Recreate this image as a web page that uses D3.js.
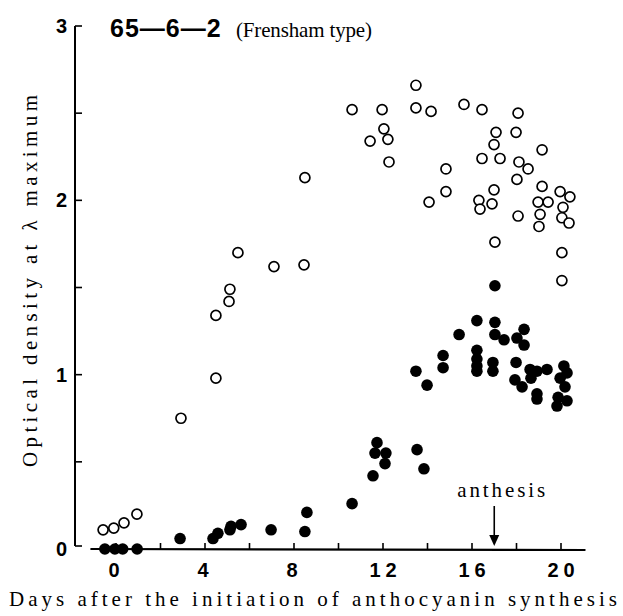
<!DOCTYPE html>
<html><head><meta charset="utf-8">
<script src="https://cdn.jsdelivr.net/npm/d3@7/dist/d3.min.js"></script>
<style>
html,body{margin:0;padding:0;background:#fff;}
svg{display:block;}
</style></head>
<body>
<script>
// ---- data (days, optical density) ----
const openDays = [-0.58,-0.1,0.36,0.94,2.92,4.49,4.49,5.08,5.12,5.48,7.10,8.45,8.49,
  10.61,11.42,11.96,12.04,12.22,12.27,13.48,13.48,14.16,14.07,14.83,14.83,
  15.64,16.45,16.45,16.31,16.36,16.90,16.99,17.08,16.99,17.03,17.26,
  18.07,17.98,18.11,18.02,18.07,18.52,19.15,19.15,18.97,19.42,19.06,19.01,
  19.96,20.40,20.09,20.04,20.36,20.04,20.04];
const openVals = [0.11,0.12,0.15,0.20,0.75,0.98,1.34,1.42,1.49,1.70,1.62,1.63,2.13,
  2.52,2.34,2.52,2.41,2.35,2.22,2.66,2.53,2.51,1.99,2.18,2.05,
  2.55,2.52,2.24,2.00,1.95,1.98,2.32,2.39,2.06,1.76,2.24,
  2.50,2.39,2.22,2.12,1.91,2.18,2.29,2.08,1.99,1.99,1.92,1.85,
  2.05,2.02,1.96,1.90,1.87,1.70,1.54];
const filledDays = [-0.5,-0.05,0.3,0.95,2.88,4.36,4.58,5.12,5.17,5.62,6.97,8.49,8.58,10.61,
  11.55,11.73,11.64,12.13,12.09,13.53,13.84,13.48,13.98,14.70,14.70,15.42,
  16.22,16.22,16.22,16.22,16.22,16.94,16.94,17.03,17.03,17.03,17.44,
  17.98,17.93,18.02,18.34,18.34,18.25,18.61,18.65,18.92,18.92,18.92,
  19.37,19.96,19.87,19.82,20.13,20.27,20.18,20.27];
const filledVals = [0,0,0,0,0.06,0.06,0.09,0.11,0.13,0.14,0.11,0.10,0.21,0.26,
  0.42,0.61,0.55,0.55,0.49,0.57,0.46,1.02,0.94,1.11,1.04,1.23,
  1.31,1.14,1.09,1.05,1.02,1.07,1.02,1.51,1.30,1.23,1.20,
  1.07,0.97,1.21,1.26,1.17,0.93,1.03,0.98,1.02,0.89,0.86,
  1.03,0.98,0.87,0.82,1.05,1.01,0.93,0.85];
const xTickVals = [0,4,8,12,16,20];
const xMinorTicks = [0,2,4,6,8,10,12,14,16,18,20];
const yTickVals = [0,1,2,3];
const yMinorTicks = [0,0.5,1,1.5,2,2.5,3];
const titleMain = "65\u20146\u20142";
const titleSub = "(Frensham type)";
const yLabel = "Optical density at \u03bb maximum";
const xLabel = "Days after the initiation of anthocyanin synthesis";
const anthesisDay = 17;

const W = 623, H = 616;
const svg = d3.select("body").append("svg").attr("width", W).attr("height", H);
svg.append("rect").attr("width", W).attr("height", H).attr("fill", "#fff");

const x = d3.scaleLinear().domain([0, 20]).range([116, 561]);
const y = d3.scaleLinear().domain([0, 3]).range([549, 26]);
const ink = "#000";
const sans = "'Liberation Sans', Arial, sans-serif";
const serif = "'Liberation Serif', 'Times New Roman', serif";

// y axis line
svg.append("line").attr("x1", 75).attr("x2", 75).attr("y1", y(3)).attr("y2", y(0) - 3)
  .attr("stroke", ink).attr("stroke-width", 2);
svg.selectAll(".ytick").data(yMinorTicks).enter().append("line")
  .attr("x1", 75).attr("x2", 82)
  .attr("y1", d => d === 0 ? y(0) - 3 : y(d)).attr("y2", d => d === 0 ? y(0) - 3 : y(d))
  .attr("stroke", ink).attr("stroke-width", 1.6);
svg.selectAll(".ylab").data(yTickVals).enter().append("text")
  .attr("x", 67).attr("y", d => y(d) + 7)
  .attr("text-anchor", "end").attr("font-family", sans).attr("font-weight", "bold")
  .attr("font-size", 20).attr("fill", ink).text(d => d);

// x axis line
svg.append("line").attr("x1", x(-1.15)).attr("x2", x(21.1)).attr("y1", y(0)).attr("y2", y(0) + 1)
  .attr("stroke", ink).attr("stroke-width", 2.2);
svg.selectAll(".xtick").data(xMinorTicks).enter().append("line")
  .attr("x1", d => x(d)).attr("x2", d => x(d)).attr("y1", y(0)).attr("y2", y(0) - 6)
  .attr("stroke", ink).attr("stroke-width", 1.6);
svg.selectAll(".xlab").data(xTickVals).enter().append("text")
  .attr("x", d => x(d) + (d >= 10 ? 2.5 : -2)).attr("y", 577)
  .attr("text-anchor", "middle").attr("font-family", sans).attr("font-weight", "bold")
  .attr("font-size", 20).attr("letter-spacing", d => d >= 10 ? "5px" : "0px")
  .attr("fill", ink).text(d => d);

// points
const openPts = openDays.map((d, i) => [d, openVals[i]]);
const filledPts = filledDays.map((d, i) => [d, filledVals[i]]);
svg.selectAll(".open").data(openPts).enter().append("circle")
  .attr("cx", d => x(d[0])).attr("cy", d => y(d[1])).attr("r", 5)
  .attr("fill", "#fff").attr("stroke", ink).attr("stroke-width", 1.7);
svg.selectAll(".filled").data(filledPts).enter().append("circle")
  .attr("cx", d => x(d[0])).attr("cy", d => y(d[1])).attr("r", 5.8)
  .attr("fill", ink);

// anthesis arrow
const ax = x(anthesisDay);
svg.append("line").attr("x1", ax).attr("x2", ax).attr("y1", 506).attr("y2", 538)
  .attr("stroke", ink).attr("stroke-width", 1.6);
svg.append("path").attr("d", `M${ax-5},535 L${ax+5},535 L${ax},546 Z`).attr("fill", ink);
svg.append("text").attr("x", ax + 7).attr("y", 497).attr("text-anchor", "middle")
  .attr("font-family", serif).attr("font-size", 21)
  .attr("textLength", 88).attr("lengthAdjust", "spacing")
  .attr("fill", ink).text("anthesis");

// title
svg.append("text").attr("x", 110).attr("y", 37).attr("font-family", sans)
  .attr("font-weight", "bold").attr("font-size", 25).attr("letter-spacing", "1px")
  .attr("fill", ink).text(titleMain);
svg.append("text").attr("x", 236).attr("y", 37).attr("font-family", serif)
  .attr("font-size", 21).attr("textLength", 136).attr("lengthAdjust", "spacing")
  .attr("fill", ink).text(titleSub);

// axis labels
svg.append("text").attr("transform", "translate(37,281) rotate(-90)")
  .attr("text-anchor", "middle").attr("font-family", serif).attr("font-size", 21)
  .attr("textLength", 372).attr("lengthAdjust", "spacing")
  .attr("fill", ink).text(yLabel);
svg.append("text").attr("x", 313).attr("y", 606)
  .attr("text-anchor", "middle").attr("font-family", serif).attr("font-size", 21)
  .attr("textLength", 608).attr("lengthAdjust", "spacing")
  .attr("fill", ink).text(xLabel);
</script>
</body></html>
